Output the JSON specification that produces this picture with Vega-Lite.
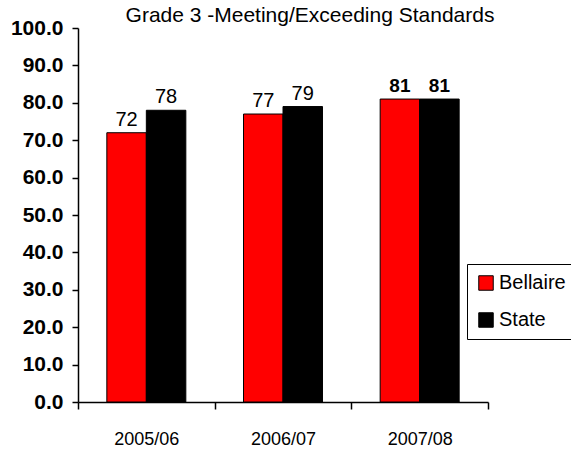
{
  "$schema": "https://vega.github.io/schema/vega-lite/v6.json",
  "autosize": "none",
  "padding": {"left": 78, "top": 28, "right": 83, "bottom": 53},
  "width": 410,
  "height": 374,
  "background": "white",
  "config": {
    "view": {"stroke": null},
    "font": "Liberation Sans"
  },
  "title": {
    "text": "Grade 3 -Meeting/Exceeding Standards",
    "font": "Liberation Sans",
    "fontSize": 21,
    "fontWeight": "normal",
    "color": "black",
    "anchor": "middle",
    "baseline": "alphabetic",
    "offset": -26,
    "dx": 27
  },
  "data": {
    "values": [
      {"year": "2005/06", "series": "Bellaire", "value": 72},
      {"year": "2005/06", "series": "State", "value": 78},
      {"year": "2006/07", "series": "Bellaire", "value": 77},
      {"year": "2006/07", "series": "State", "value": 79},
      {"year": "2007/08", "series": "Bellaire", "value": 81},
      {"year": "2007/08", "series": "State", "value": 81}
    ]
  },
  "encoding": {
    "x": {
      "field": "year",
      "type": "nominal",
      "scale": {"paddingInner": 0, "paddingOuter": 0},
      "axis": {
        "title": null,
        "labelAngle": 0,
        "labelFont": "Liberation Sans",
        "labelFontSize": 18,
        "labelColor": "black",
        "labelPadding": 21,
        "domainColor": "black",
        "domainWidth": 1.5,
        "tickColor": "black",
        "tickWidth": 1.5,
        "tickSize": 7,
        "tickBand": "extent"
      }
    },
    "xOffset": {
      "field": "series",
      "type": "nominal",
      "scale": {"paddingInner": 0, "paddingOuter": 0.73}
    },
    "y": {
      "field": "value",
      "type": "quantitative",
      "scale": {"domain": [0, 100], "nice": false},
      "axis": {
        "title": null,
        "values": [0, 10, 20, 30, 40, 50, 60, 70, 80, 90, 100],
        "format": ".1f",
        "grid": false,
        "labelFont": "Liberation Sans",
        "labelFontSize": 21,
        "labelFontWeight": "bold",
        "labelColor": "black",
        "labelPadding": 9,
        "domainColor": "black",
        "domainWidth": 1.5,
        "tickColor": "black",
        "tickWidth": 1.5,
        "tickSize": 6
      }
    }
  },
  "layer": [
    {
      "mark": {"type": "bar", "stroke": "black", "strokeWidth": 1},
      "encoding": {
        "color": {
          "field": "series",
          "type": "nominal",
          "scale": {"domain": ["Bellaire", "State"], "range": ["#ff0000", "#000000"]},
          "legend": {
            "title": null,
            "orient": "none",
            "legendX": 389,
            "legendY": 236,
            "symbolType": "square",
            "symbolSize": 210,
            "symbolStrokeColor": "black",
            "symbolStrokeWidth": 1,
            "symbolOpacity": 1,
            "labelFont": "Liberation Sans",
            "labelFontSize": 20,
            "labelColor": "black",
            "labelOffset": 3,
            "rowPadding": 17,
            "padding": 9,
            "strokeColor": "black",
            "fillColor": "white"
          }
        }
      }
    },
    {
      "transform": [{"filter": "datum.year != '2007/08'"}],
      "mark": {"type": "text", "baseline": "alphabetic", "dy": -7, "fontSize": 20, "font": "Liberation Sans", "color": "black"},
      "encoding": {"text": {"field": "value", "type": "quantitative"}}
    },
    {
      "transform": [{"filter": "datum.year == '2007/08'"}],
      "mark": {"type": "text", "baseline": "alphabetic", "dy": -7, "fontSize": 19, "fontWeight": "bold", "font": "Liberation Sans", "color": "black"},
      "encoding": {"text": {"field": "value", "type": "quantitative"}}
    }
  ]
}
